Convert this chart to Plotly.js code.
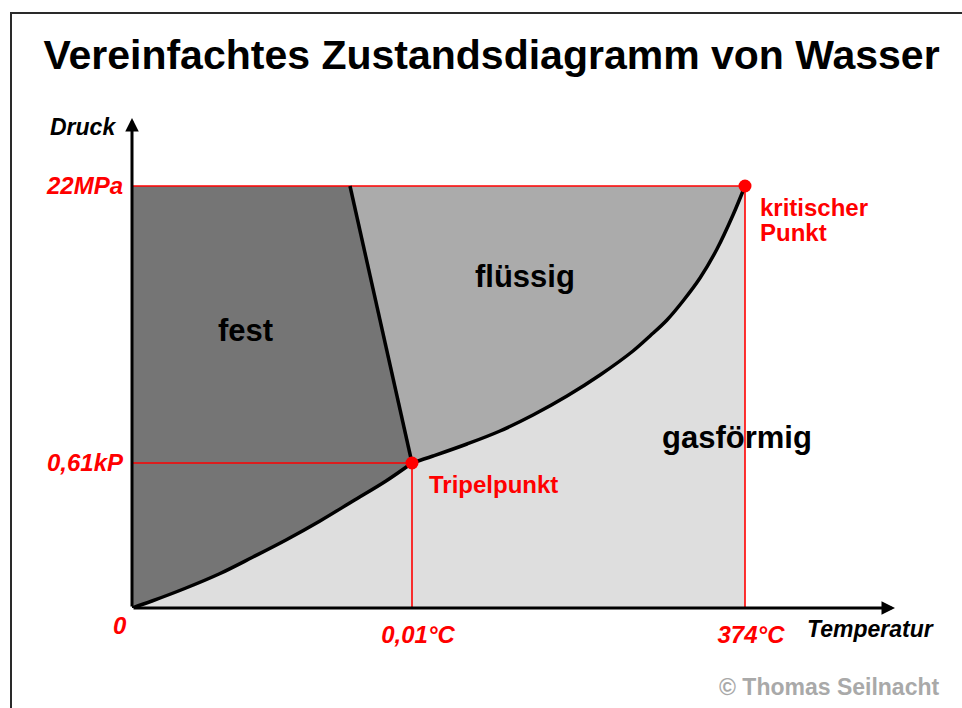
<!DOCTYPE html>
<html>
<head>
<meta charset="utf-8">
<script src="https://cdn.plot.ly/plotly-3.0.1.min.js"></script>
<style>
  html, body { margin: 0; padding: 0; background: #fff; overflow: hidden; }
  #chart { position: absolute; left: 0; top: 0; width: 962px; height: 708px; }
  #frame { position: absolute; left: 10px; top: 12px; width: 1000px; height: 800px;
           border-left: 2px solid #2a2a2a; border-top: 2px solid #2a2a2a; pointer-events: none; }
</style>
</head>
<body>
<div id="chart"></div>
<div id="frame"></div>
<script>
// Schematic phase diagram of water (schematic units)
const sublimT = [0, 20, 54, 87, 121, 154, 188, 221, 254, 280];
const sublimP = [0, 7, 20, 34, 51, 68, 87, 107, 127, 145];
const vapT = [280, 301, 335, 368, 401, 435, 468, 501, 518, 535, 551, 568, 585, 601, 613];
const vapP = [145, 152, 164, 177, 193, 212, 233, 257, 272, 288, 307, 330, 359, 393, 422];
const meltT = [218, 280];
const meltP = [422, 145];

const tripleT = 280, tripleP = 145;
const critT = 613, critP = 422;

const tempTicks = [tripleT, critT];
const tempLabels = ['0,01°C', '374°C'];
const pressTicks = [tripleP, critP];
const pressLabels = ['0,61kP', '22MPa'];

const phaseNames = ['fest', 'flüssig', 'gasförmig'];
const phaseColors = ['#757575', '#ababab', '#dedede'];

const XMAX = 763, YMAX = 490;
const FONT = 'Liberation Sans, Arial, Helvetica, sans-serif';
const RED = '#ff0000';

const rev = a => a.slice().reverse();

// region polygons built from the curves
const festX = [0, 0, meltT[0], meltT[1]].concat(rev(sublimT));
const festY = [0, critP, meltP[0], meltP[1]].concat(rev(sublimP));
const fluX = [meltT[0], critT].concat(rev(vapT)).concat([meltT[0]]);
const fluY = [critP, critP].concat(rev(vapP)).concat([meltP[0]]);
const gasX = [0, critT].concat(rev(vapT)).concat(rev(sublimT));
const gasY = [0, 0].concat(rev(vapP)).concat(rev(sublimP));

const curveLine = { color: '#000', width: 3.5, shape: 'spline', smoothing: 1 };

const traces = [
  { x: gasX, y: gasY, type: 'scatter', mode: 'lines', fill: 'toself', fillcolor: phaseColors[2],
    line: { width: 0, color: phaseColors[2] }, hoverinfo: 'skip', name: phaseNames[2] },
  { x: festX, y: festY, type: 'scatter', mode: 'lines', fill: 'toself', fillcolor: phaseColors[0],
    line: { width: 0, color: phaseColors[0] }, hoverinfo: 'skip', name: phaseNames[0] },
  { x: fluX, y: fluY, type: 'scatter', mode: 'lines', fill: 'toself', fillcolor: phaseColors[1],
    line: { width: 0, color: phaseColors[1] }, hoverinfo: 'skip', name: phaseNames[1] },
  // red guide lines
  { x: [0, critT, null, 0, tripleT, null, tripleT, tripleT, null, critT, critT],
    y: [critP, critP, null, tripleP, tripleP, null, 0, tripleP, null, 0, critP],
    type: 'scatter', mode: 'lines', line: { color: RED, width: 1.6 }, hoverinfo: 'skip',
    connectgaps: false, cliponaxis: false },
  // phase boundaries
  { x: sublimT, y: sublimP, type: 'scatter', mode: 'lines', line: curveLine, hoverinfo: 'skip' },
  { x: vapT, y: vapP, type: 'scatter', mode: 'lines', line: curveLine, hoverinfo: 'skip' },
  { x: meltT, y: meltP, type: 'scatter', mode: 'lines', line: { color: '#000', width: 3.5 }, hoverinfo: 'skip' },
  // triple and critical points
  { x: [tripleT, critT], y: [tripleP, critP], type: 'scatter', mode: 'markers',
    marker: { color: RED, size: 13 }, hoverinfo: 'skip', cliponaxis: false }
];

const tickFont = { family: FONT, size: 24, color: RED, weight: 'bold', style: 'italic' };
const blackLbl = { family: FONT, size: 23, color: '#000', weight: 'bold', style: 'italic' };
const redLbl = { family: FONT, size: 24, color: RED, weight: 'bold' };
const phaseFont = { family: FONT, size: 31, color: '#000', weight: 'bold' };

const ann = (x, y, text, font, xanchor) => ({ x, y, xref: 'x', yref: 'y', text, font,
  showarrow: false, xanchor: xanchor || 'center', yanchor: 'middle' });
// labels outside the axis ranges: placed in paper units
const annP = (x, y, text, font, xanchor) => ({ x: x / XMAX, y: y / YMAX, xref: 'paper', yref: 'paper',
  text, font, showarrow: false, xanchor: xanchor || 'center', yanchor: 'middle' });

const annotations = [
  // axes with arrows
  { x: XMAX, y: 0, ax: 0, ay: 0, xref: 'x', yref: 'y', axref: 'x', ayref: 'y', text: '',
    showarrow: true, arrowhead: 2, arrowsize: 0.9, arrowwidth: 3, arrowcolor: '#000' },
  { x: 0, y: YMAX, ax: 0, ay: 0, xref: 'x', yref: 'y', axref: 'x', ayref: 'y', text: '',
    showarrow: true, arrowhead: 2, arrowsize: 0.9, arrowwidth: 3, arrowcolor: '#000' },
  annP(-14, 481, 'Druck', blackLbl, 'right'),
  annP(673, -21, 'Temperatur', blackLbl, 'left'),
  annP(-12, -17, '0', tickFont),
  ann(113, 278, phaseNames[0], phaseFont),
  ann(393, 332, phaseNames[1], phaseFont),
  ann(605, 171, phaseNames[2], phaseFont),
  ann(626, 401, 'kritischer', redLbl, 'left'),
  ann(626, 376, 'Punkt', redLbl, 'left'),
  ann(295, 124, 'Tripelpunkt', redLbl, 'left'),
  annP(810, -79, '© Thomas Seilnacht', { family: FONT, size: 23, color: '#a9a9a9', weight: 'bold' }, 'right')
];

const layout = {
  width: 962, height: 708,
  margin: { l: 132, r: 67, t: 118, b: 100, pad: 0 },
  paper_bgcolor: 'rgba(0,0,0,0)', plot_bgcolor: 'rgba(0,0,0,0)',
  showlegend: false,
  title: { text: 'Vereinfachtes Zustandsdiagramm von Wasser', x: 491.5 / 962, xanchor: 'center',
           xref: 'container', yref: 'container', y: 1 - 55 / 708, yanchor: 'middle',
           font: { family: FONT, size: 41, color: '#000', weight: 'bold' } },
  xaxis: { range: [0, XMAX], showgrid: false, zeroline: false, showline: false, ticks: '',
           tickvals: tempTicks, ticktext: tempLabels, tickfont: tickFont,
           ticklabelstandoff: 10, ticklabelshift: 6, automargin: false, fixedrange: true },
  yaxis: { range: [0, YMAX], showgrid: false, zeroline: false, showline: false, ticks: '',
           tickvals: pressTicks, ticktext: pressLabels, tickfont: tickFont,
           ticklabelstandoff: 8, automargin: false, fixedrange: true },
  annotations
};

Plotly.newPlot('chart', traces, layout, { staticPlot: true, displayModeBar: false });
</script>
</body>
</html>
